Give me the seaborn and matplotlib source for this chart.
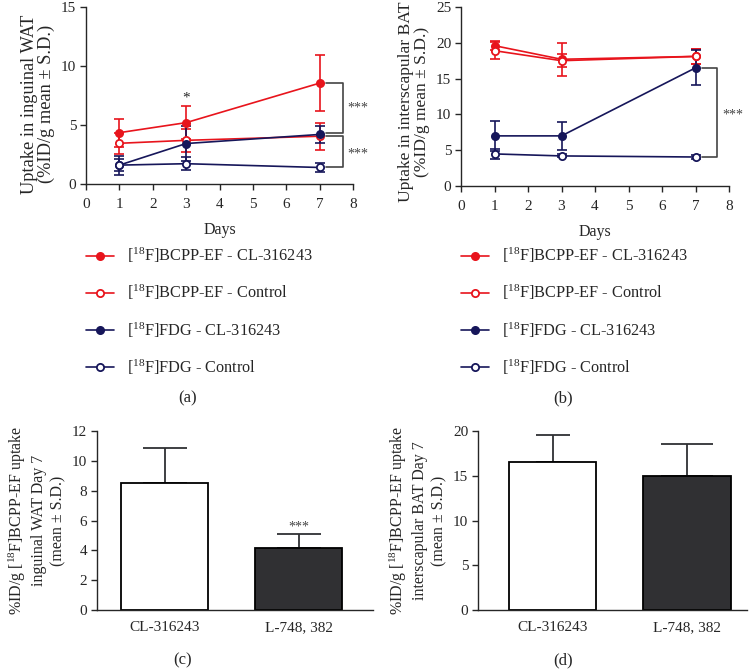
import numpy as np
import matplotlib
matplotlib.use("Agg")
import matplotlib.pyplot as plt
import seaborn as sns
import pandas as pd

# ---- data ----
days = [1, 3, 7]

# (a) inguinal WAT uptake, mean and S.D.
wat_bcpp_cl = [4.35, 5.2, 8.55]
wat_bcpp_cl_sd = [1.2, 1.4, 2.4]
wat_bcpp_ctrl = [3.45, 3.7, 4.05]
wat_bcpp_ctrl_sd = [0.9, 1.0, 1.15]
wat_fdg_cl = [1.6, 3.43, 4.2]
wat_fdg_cl_sd = [0.8, 1.45, 0.7]
wat_fdg_ctrl = [1.6, 1.72, 1.4]
wat_fdg_ctrl_sd = [0.5, 0.55, 0.4]

# (b) interscapular BAT uptake, mean and S.D.
bat_bcpp_cl = [19.6, 17.7, 18.1]
bat_bcpp_cl_sd = [0.6, 2.3, 1.0]
bat_bcpp_ctrl = [18.9, 17.5, 18.1]
bat_bcpp_ctrl_sd = [1.2, 0.9, 1.1]
bat_fdg_cl = [7.0, 7.0, 16.5]
bat_fdg_cl_sd = [2.1, 2.0, 2.45]
bat_fdg_ctrl = [4.48, 4.2, 4.05]
bat_fdg_ctrl_sd = [0.65, 0.2, 0.3]

# (c)/(d) day 7 bars
treatments = ["CL-316243", "L-748, 382"]
wat_day7 = [8.5, 4.13]
wat_day7_sd = [2.35, 0.95]
bat_day7 = [16.5, 15.0]
bat_day7_sd = [3.05, 3.55]

series_labels = ["[$^{18}$F]BCPP-EF - CL-316243",
                 "[$^{18}$F]BCPP-EF - Control",
                 "[$^{18}$F]FDG - CL-316243",
                 "[$^{18}$F]FDG - Control"]

RED = "#e8141c"
NAVY = "#16165a"
DARK = "#2f3034"
GREY = "#444444"

sns.set_style("ticks")
plt.rcParams["font.family"] = ["Liberation Serif", "DejaVu Serif"]
plt.rcParams["mathtext.fontset"] = "custom"
plt.rcParams["mathtext.rm"] = "Liberation Serif"
plt.rcParams["mathtext.default"] = "regular"
plt.rcParams["axes.linewidth"] = 1.0
plt.rcParams["xtick.major.width"] = 1.0
plt.rcParams["ytick.major.width"] = 1.0
plt.rcParams["xtick.major.size"] = 4
plt.rcParams["ytick.major.size"] = 4

W, H = 755, 669
fig = plt.figure(figsize=(W / 100, H / 100), dpi=100)


def px_axes(left, top, right, bottom):
    return fig.add_axes([left / W, 1 - bottom / H, (right - left) / W, (bottom - top) / H])


def line_panel(ax, groups, ylim, yticks):
    styles = [(RED, RED), (RED, "white"), (NAVY, NAVY), (NAVY, "white")]
    for (mean, sd), (c, fc), lab in zip(groups, styles, series_labels):
        df = pd.DataFrame({"day": days, "val": mean})
        ax.errorbar(days, mean, yerr=sd, fmt="none", ecolor=c, elinewidth=1.2,
                    capsize=3.6, capthick=1.2, zorder=2)
        sns.lineplot(data=df, x="day", y="val", ax=ax, color=c, lw=1.2,
                     marker="o", markersize=5.2, markerfacecolor=fc,
                     markeredgecolor=c, markeredgewidth=1.3, label=lab, zorder=3)
    ax.set_xlim(0, 8)
    ax.set_ylim(*ylim)
    ax.set_xticks(range(0, 9))
    ax.set_yticks(yticks)
    ax.set_xlabel("Days", fontsize=11.5, labelpad=8)
    ax.tick_params(labelsize=11, direction="out", pad=3)
    ax.tick_params(axis="x", pad=6)
    sns.despine(ax=ax)


def bracket(ax, x0, x1, y0, y1, text, ty):
    ax.plot([x0, x1, x1, x0], [y0, y0, y1, y1], color=GREY, lw=1.2, clip_on=False)
    ax.text(x1 + 0.45, ty, text, ha="center", va="center", fontsize=10, color=GREY)


# ---- (a) ----
axa = px_axes(86, 7, 353, 184)
line_panel(axa, [(wat_bcpp_cl, wat_bcpp_cl_sd), (wat_bcpp_ctrl, wat_bcpp_ctrl_sd),
                 (wat_fdg_cl, wat_fdg_cl_sd), (wat_fdg_ctrl, wat_fdg_ctrl_sd)],
           (0, 15), [0, 5, 10, 15])
axa.set_ylabel("Uptake in inguinal WAT\n(%ID/g mean ± S.D.)", fontsize=13.2,
               labelpad=4, linespacing=1.0)
axa.yaxis.label.set_y(0.45)
axa.text(3, 7.3, "*", ha="center", va="center", fontsize=11)
bracket(axa, 7.2, 7.7, 8.55, 4.35, "***", 6.4)
bracket(axa, 7.2, 7.7, 4.1, 1.4, "***", 2.55)

# ---- (b) ----
axb = px_axes(461, 7, 729, 186)
line_panel(axb, [(bat_bcpp_cl, bat_bcpp_cl_sd), (bat_bcpp_ctrl, bat_bcpp_ctrl_sd),
                 (bat_fdg_cl, bat_fdg_cl_sd), (bat_fdg_ctrl, bat_fdg_ctrl_sd)],
           (0, 25), [0, 5, 10, 15, 20, 25])
axb.set_ylabel("Uptake in interscapular BAT\n(%ID/g mean ± S.D.)", fontsize=12.6,
               labelpad=4, linespacing=1.0)
axb.yaxis.label.set_y(0.47)
bracket(axb, 7.2, 7.65, 16.5, 4.05, "***", 9.9)

for ax, x in [(axa, 86), (axb, 461)]:
    h, l = ax.get_legend_handles_labels()
    ax.legend(h, l, loc="upper left", bbox_to_anchor=(x / W, 1 - 246 / H),
              bbox_transform=fig.transFigure, frameon=False, fontsize=11.7,
              borderpad=0, borderaxespad=0, handlelength=1.75,
              handletextpad=0.8, labelspacing=1.1)

fig.text(188 / W, 1 - 398 / H, "(a)", ha="center", va="center", fontsize=12)
fig.text(563 / W, 1 - 398 / H, "(b)", ha="center", va="center", fontsize=12)


# ---- (c) / (d) ----
def bar_panel(ax, vals, sds, caps, ylim, yticks, xlim):
    df = pd.DataFrame({"t": treatments, "v": vals})
    sns.barplot(data=df, x="t", y="v", ax=ax, palette=["white", DARK], hue="t",
                legend=False, width=0.65, edgecolor="black", linewidth=1.3, zorder=2)
    for i in range(len(vals)):
        ax.errorbar([i], [vals[i]], yerr=[[0], [sds[i]]], fmt="none", ecolor=DARK,
                    elinewidth=1.3, capsize=caps[i], capthick=1.3, zorder=1)
    ax.set_ylim(*ylim)
    ax.set_yticks(yticks)
    ax.set_xlim(*xlim)
    ax.set_xlabel("")
    ax.tick_params(labelsize=11, direction="out", pad=3)
    ax.tick_params(axis="x", length=0, pad=8)
    sns.despine(ax=ax)


axc = px_axes(97, 431, 373, 610)
bar_panel(axc, wat_day7, wat_day7_sd, [16, 16], (0, 12), [0, 2, 4, 6, 8, 10, 12],
          (-0.504, 1.556))
axc.set_ylabel("%ID/g [$^{18}$F]BCPP-EF uptake\ninguinal WAT Day 7\n(mean ± S.D.)",
               fontsize=11.5, labelpad=4, linespacing=1.25)
axc.text(1, wat_day7[1] + wat_day7_sd[1] + 0.5, "***", ha="center", va="center",
         fontsize=10, color=GREY)

axd = px_axes(478, 431, 747, 610)
bar_panel(axd, bat_day7, bat_day7_sd, [12.5, 19], (0, 20), [0, 5, 10, 15, 20],
          (-0.554, 1.446))
axd.set_ylabel("%ID/g [$^{18}$F]BCPP-EF uptake\ninterscapular BAT Day 7\n(mean ± S.D.)",
               fontsize=11.5, labelpad=4, linespacing=1.25)

fig.text(183 / W, 1 - 660 / H, "(c)", ha="center", va="center", fontsize=12)
fig.text(563 / W, 1 - 660 / H, "(d)", ha="center", va="center", fontsize=12)

fig.savefig("out.png", dpi=100)
